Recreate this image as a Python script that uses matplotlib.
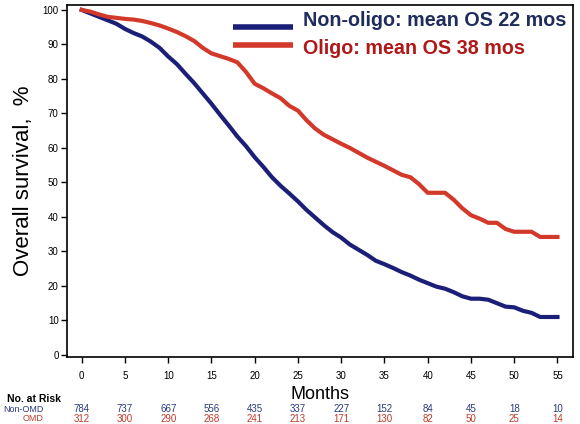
import numpy as np
import matplotlib
matplotlib.use("Agg")
import matplotlib.pyplot as plt
import matplotlib.transforms as mtransforms

plt.rcParams['font.family'] = ['Liberation Sans', 'DejaVu Sans']

### Data (months, survival %)
months = np.arange(0, 56)
non_oligo = [100, 99, 98, 97, 96, 94.5, 93.3, 92.3, 90.8, 89,
             86.5, 84.3, 81.5, 78.8, 75.8, 72.8, 69.6, 66.5, 63.3, 60.5,
             57.3, 54.5, 51.5, 49, 46.8, 44.5, 42, 39.8, 37.6, 35.6,
             34, 32, 30.5, 29, 27.3, 26.3, 25.2, 24, 23, 21.8,
             20.8, 19.8, 19.2, 18.2, 17, 16.3, 16.3, 16, 15, 14,
             13.8, 12.8, 12.2, 11, 11, 11]
oligo = [100, 99.5, 98.7, 98, 97.7, 97.4, 97.2, 96.8, 96.2, 95.5,
         94.6, 93.6, 92.4, 91, 89, 87.4, 86.6, 85.8, 84.8, 82,
         78.6, 77.3, 75.8, 74.4, 72.2, 70.8, 68, 65.6, 63.8, 62.5,
         61.2, 60, 58.6, 57.2, 56, 54.8, 53.5, 52.2, 51.5, 49.5,
         47, 47, 47, 45, 42.5, 40.5, 39.5, 38.3, 38.3, 36.5,
         35.7, 35.7, 35.7, 34.2, 34.2, 34.2]

risk_months = [0, 5, 10, 15, 20, 25, 30, 35, 40, 45, 50, 55]
risk_non_omd = [784, 737, 667, 556, 435, 337, 227, 152, 84, 45, 18, 10]
risk_omd = [312, 300, 290, 268, 241, 213, 171, 130, 82, 50, 25, 14]

legend_labels = ['Non-oligo: mean OS 22 mos', 'Oligo: mean OS 38 mos']

blue = '#1b1f78'
red = '#d2392a'

fig = plt.figure(figsize=(5.8, 4.24), dpi=100)
ax = fig.add_axes([0.1155, 0.158, 0.8725, 0.83])

ax.plot(months, non_oligo, color=blue, lw=3)
ax.plot(months, oligo, color=red, lw=3)

ax.set_xlim(-1.7, 56.8)
ax.set_ylim(-0.6, 101.4)
ax.set_xticks(risk_months)
ax.set_yticks(np.arange(0, 101, 10))
ax.tick_params(labelsize=7, length=4, width=1, direction='out', pad=6)
ax.tick_params(axis='y', pad=2)
for s in ax.spines.values():
    s.set_linewidth(1.2)

ax.set_ylabel('Overall survival,  %', fontsize=16, labelpad=6)
ax.set_xlabel('Months', fontsize=13, labelpad=4)

### Legend drawn by hand
ax.plot([0.328, 0.447], [0.9375, 0.9375], transform=ax.transAxes, color=blue, lw=4, solid_capstyle='butt')
ax.plot([0.328, 0.447], [0.886, 0.886], transform=ax.transAxes, color=red, lw=4, solid_capstyle='butt')
ax.text(0.466, 0.957, legend_labels[0], transform=ax.transAxes, fontsize=14.2,
        fontweight='bold', color='#1f2d5c', va='center', ha='left')
ax.text(0.466, 0.878, legend_labels[1], transform=ax.transAxes, fontsize=14.2,
        fontweight='bold', color='#b01818', va='center', ha='left')

### Number at risk table
trans = mtransforms.blended_transform_factory(ax.transData, fig.transFigure)
fig.text(0.012, 0.059, 'No. at Risk', fontsize=7.5, fontweight='bold', va='center')
fig.text(0.075, 0.035, 'Non-OMD', fontsize=6.5, color='#2a3a80', va='center', ha='right')
fig.text(0.075, 0.012, 'OMD', fontsize=6.5, color='#c0392b', va='center', ha='right')
for m, a, b in zip(risk_months, risk_non_omd, risk_omd):
    ax.text(m, 0.035, str(a), transform=trans, fontsize=7, color='#2a3a80', ha='center', va='center')
    ax.text(m, 0.012, str(b), transform=trans, fontsize=7, color='#c0392b', ha='center', va='center')

fig.savefig('out.png', dpi=100)
